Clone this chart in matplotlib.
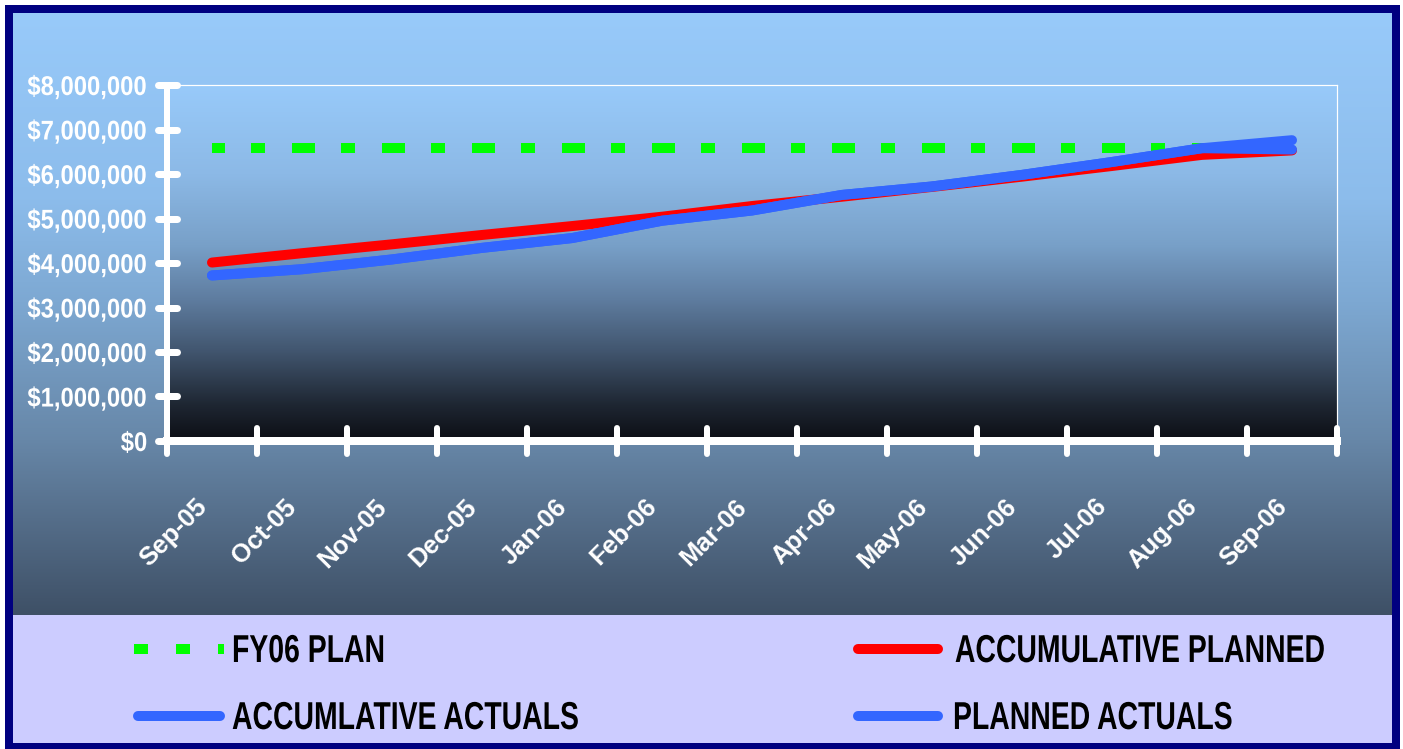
import numpy as np
import matplotlib
matplotlib.use("Agg")
import matplotlib.pyplot as plt
from matplotlib.transforms import ScaledTranslation, Affine2D
from matplotlib.markers import MarkerStyle
from matplotlib.patheffects import AbstractPathEffect

# ---------------- data ----------------
months = ["Sep-05", "Oct-05", "Nov-05", "Dec-05", "Jan-06", "Feb-06", "Mar-06",
          "Apr-06", "May-06", "Jun-06", "Jul-06", "Aug-06", "Sep-06"]
fy06_plan = [6580000] * 13
accum_planned = [4010000, 4220000, 4420000, 4630000, 4830000, 5040000, 5280000,
                 5490000, 5710000, 5940000, 6180000, 6430000, 6530000]
accum_actuals = [3720000, 3860000, 4080000, 4340000, 4560000, 4950000, 5180000,
                 5530000, 5720000, 5980000, 6270000, 6580000, 6760000]
planned_actuals = [3720000, 3860000, 4080000, 4340000, 4560000, 4950000, 5180000,
                   5530000, 5720000, 5980000, 6270000, 6580000, 6550000]
y_ticks = [0, 1000000, 2000000, 3000000, 4000000, 5000000, 6000000, 7000000, 8000000]
legend_labels = ["FY06 PLAN", "ACCUMULATIVE PLANNED", "ACCUMLATIVE ACTUALS", "PLANNED ACTUALS"]

W, H = 1403, 749
DPI = 100
PX = 72.0 / DPI  # points per pixel
plt.rcParams['lines.scale_dashes'] = False

FONT = ['Liberation Sans', 'DejaVu Sans']


class Squeeze(AbstractPathEffect):
    """Draw text glyphs horizontally condensed (like a narrow typeface)."""

    def __init__(self, sx, anchor='left'):
        super().__init__()
        self.sx = sx
        self.anchor = anchor

    def draw_path(self, renderer, gc, tpath, affine, rgbFace=None):
        ext = tpath.get_extents()
        if self.anchor == 'right':
            x0 = ext.x1
        elif self.anchor == 'center':
            x0 = 0.5 * (ext.x0 + ext.x1)
        else:
            x0 = 0.0
        t = Affine2D().translate(-x0, 0).scale(self.sx, 1.0).translate(x0, 0)
        renderer.draw_path(gc, tpath, t + affine, rgbFace)


fig = plt.figure(figsize=(W / DPI, H / DPI), dpi=DPI)
fig.patch.set_facecolor('white')


def gradient(stops, n=400):
    ts = np.array([s[0] for s in stops])
    cols = np.array([s[1] for s in stops], dtype=float) / 255.0
    t = np.linspace(0, 1, n)
    arr = np.stack([np.interp(t, ts, cols[:, k]) for k in range(3)], axis=-1)
    return arr[:, None, :]


# ---------------- background (pixel coordinates) ----------------
bg = fig.add_axes([0, 0, 1, 1], zorder=-10)
bg.axis('off')
bg.add_patch(plt.Rectangle((5, 5), 1395, 744, color='#000080', lw=0))
outer = gradient([(0.0, (152, 202, 250)), (0.31, (140, 188, 235)), (0.48, (125, 168, 210)),
                  (0.71, (103, 135, 168)), (0.84, (85, 110, 138)), (1.0, (62, 80, 102))])
bg.imshow(outer, extent=(13, 1392, 615, 13), aspect='auto', interpolation='bilinear', zorder=1)
bg.add_patch(plt.Rectangle((13, 615), 1379, 128, color='#CCCCFF', lw=0, zorder=2))
bg.set_xlim(0, W)
bg.set_ylim(H, 0)

# ---------------- main axes ----------------
L, R, T, B = 167, 1337, 85, 441
ax = fig.add_axes([L / W, 1 - B / H, (R - L) / W, (B - T) / H])
inner = gradient([(0.0, (152, 202, 250)), (0.25, (140, 185, 230)), (0.45, (120, 160, 200)),
                  (0.6, (95, 125, 160)), (0.75, (65, 85, 110)), (0.9, (30, 38, 50)),
                  (1.0, (12, 14, 20))])
ax.imshow(inner, extent=(0, 1, 0, 1), transform=ax.transAxes, aspect='auto',
          interpolation='bilinear', zorder=0)

x = np.arange(len(months))
lw = 10 * PX
green_dash = (10 * PX, (23 * PX, 26 * PX, 14 * PX, 27 * PX))
ln_plan, = ax.plot(x, fy06_plan, color='#00FF00', lw=lw, dash_capstyle='butt', zorder=3)
ln_plan.set_linestyle(green_dash)
ln_red, = ax.plot(x, accum_planned, color='#FF0000', lw=lw, solid_capstyle='round',
                  solid_joinstyle='round', zorder=4)
ln_pa, = ax.plot(x, planned_actuals, color='#3366FF', lw=lw, solid_capstyle='round',
                 solid_joinstyle='round', zorder=5)
ln_aa, = ax.plot(x, accum_actuals, color='#3366FF', lw=lw, solid_capstyle='round',
                 solid_joinstyle='round', zorder=6)

ax.set_xlim(-0.5, len(months) - 0.5)
ax.set_ylim(0, 8000000)

# spines
for s in ['top', 'right']:
    ax.spines[s].set_color('white')
    ax.spines[s].set_linewidth(1.2 * PX)
ax.spines['left'].set_color('white')
ax.spines['left'].set_linewidth(6 * PX)
ax.spines['bottom'].set_color('white')
ax.spines['bottom'].set_linewidth(8 * PX)
ax.spines['left'].set_zorder(7)
ax.spines['bottom'].set_zorder(7)

# y ticks
ax.set_yticks(y_ticks)
ax.set_yticklabels(["${:,.0f}".format(v) for v in y_ticks])
ax.tick_params(axis='y', which='major', direction='inout', length=19 * PX, width=7 * PX,
               color='white', pad=10 * PX, labelcolor='white')
for lab in ax.get_yticklabels():
    lab.set_family(FONT)
    lab.set_fontweight('bold')
    lab.set_fontsize(19.5)
    lab.set_path_effects([Squeeze(0.88, 'right')])

# x ticks: major at category boundaries, labels at category centers (minor)
ax.set_xticks(np.arange(-0.5, len(months), 1.0))
ax.set_xticklabels([])
ax.tick_params(axis='x', which='major', direction='inout', length=26 * PX, width=6 * PX,
               color='white')
ax.set_xticks(x, months, minor=True)
ax.tick_params(axis='x', which='minor', length=0, pad=62 * PX, labelcolor='white')
off = ScaledTranslation(-9 / DPI, 0, fig.dpi_scale_trans)
for lab in ax.get_xticklabels(minor=True):
    lab.set_family(FONT)
    lab.set_fontweight('bold')
    lab.set_fontsize(18.5)
    lab.set_rotation(45)
    lab.set_ha('right')
    lab.set_va('center')
    lab.set_rotation_mode('anchor')
    lab.set_transform(lab.get_transform() + off)

for t in ax.xaxis.get_major_ticks() + ax.yaxis.get_major_ticks():
    for tl in (t.tick1line, t.tick2line):
        try:
            tl.set_marker(MarkerStyle(tl.get_marker(), capstyle='round'))
        except Exception:
            pass
        tl.set_zorder(8)

# ---------------- legend (drawn in pixel coordinates) ----------------
rows = [649, 716]
bg.plot([134, 224], [rows[0]] * 2, color=ln_plan.get_color(), lw=lw,
        dashes=(14 * PX, 28 * PX), dash_capstyle='butt', zorder=5)
bg.plot([858, 938], [rows[0]] * 2, color=ln_red.get_color(), lw=lw,
        solid_capstyle='round', zorder=5)
bg.plot([138, 220], [rows[1]] * 2, color=ln_aa.get_color(), lw=lw,
        solid_capstyle='round', zorder=5)
bg.plot([858, 938], [rows[1]] * 2, color=ln_pa.get_color(), lw=lw,
        solid_capstyle='round', zorder=5)
# (x, y, horizontal alignment) per legend entry
leg_pos = [(232, 662, 'left'), (1140, 662, 'center'), (232, 729, 'left'), (953, 729, 'left')]
for (px_, py_, ha_), txt in zip(leg_pos, legend_labels):
    tx = bg.text(px_, py_, txt, family=FONT, fontweight='bold', fontsize=28,
                 color='black', ha=ha_, va='baseline', zorder=6)
    tx.set_path_effects([Squeeze(0.73, ha_)])

fig.savefig('out.png', dpi=DPI, facecolor=fig.get_facecolor())
